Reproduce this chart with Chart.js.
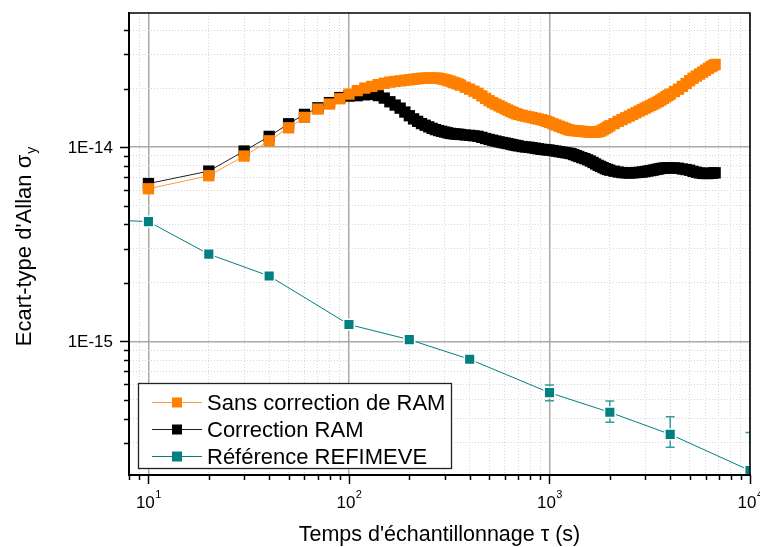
<!DOCTYPE html>
<html>
<head>
<meta charset="utf-8">
<script src="https://cdn.jsdelivr.net/npm/chart.js@4.4.1/dist/chart.umd.min.js"></script>
<style>
html, body { margin: 0; padding: 0; background: #fff; }
#wrap { width: 760px; height: 547px; }
</style>
</head>
<body>
<div id="wrap"><canvas id="allanChart" width="760" height="547"></canvas></div>
<script>
// Ecart-type d'Allan (log-log)

const tau = [
  10, 20, 30, 40, 50, 60, 70, 80, 90, 100,
  110, 120, 130, 140, 150, 160, 170, 180, 190, 200,
  210, 220, 230, 240, 250, 260, 270, 280, 290, 300,
  310, 320, 330, 340, 350, 360, 380, 400, 420, 440,
  460, 480, 500, 520, 540, 560, 580, 600, 620, 640,
  660, 680, 700, 730, 760, 790, 820, 850, 880, 910,
  940, 970, 1000, 1040, 1080, 1120, 1160, 1200, 1240, 1280,
  1320, 1360, 1400, 1450, 1500, 1550, 1600, 1650, 1700, 1750,
  1800, 1850, 1900, 1950, 2000, 2100, 2200, 2300, 2400, 2500,
  2600, 2700, 2800, 2900, 3000, 3100, 3200, 3300, 3400, 3500,
  3600, 3700, 3800, 3900, 4000, 4200, 4400, 4600, 4800, 5000,
  5200, 5400, 5600, 5800, 6000, 6200, 6400, 6550, 6700
];

const sansCorrection = [
  0.610e-14, 0.712e-14, 0.899e-14, 1.077e-14, 1.257e-14, 1.422e-14, 1.569e-14, 1.665e-14, 1.773e-14, 1.874e-14,
  1.953e-14, 2.012e-14, 2.053e-14, 2.097e-14, 2.130e-14, 2.160e-14, 2.176e-14, 2.191e-14, 2.207e-14, 2.220e-14,
  2.233e-14, 2.246e-14, 2.259e-14, 2.265e-14, 2.267e-14, 2.267e-14, 2.267e-14, 2.259e-14, 2.243e-14, 2.225e-14,
  2.204e-14, 2.181e-14, 2.157e-14, 2.135e-14, 2.110e-14, 2.085e-14, 2.033e-14, 1.986e-14, 1.939e-14, 1.892e-14,
  1.834e-14, 1.781e-14, 1.733e-14, 1.694e-14, 1.662e-14, 1.631e-14, 1.603e-14, 1.574e-14, 1.550e-14, 1.527e-14,
  1.505e-14, 1.486e-14, 1.472e-14, 1.456e-14, 1.442e-14, 1.430e-14, 1.418e-14, 1.405e-14, 1.394e-14, 1.384e-14,
  1.371e-14, 1.355e-14, 1.339e-14, 1.318e-14, 1.298e-14, 1.280e-14, 1.263e-14, 1.247e-14, 1.230e-14, 1.220e-14,
  1.216e-14, 1.212e-14, 1.209e-14, 1.205e-14, 1.200e-14, 1.196e-14, 1.193e-14, 1.190e-14, 1.193e-14, 1.199e-14,
  1.209e-14, 1.227e-14, 1.247e-14, 1.268e-14, 1.287e-14, 1.320e-14, 1.355e-14, 1.385e-14, 1.415e-14, 1.444e-14,
  1.473e-14, 1.502e-14, 1.532e-14, 1.560e-14, 1.586e-14, 1.612e-14, 1.639e-14, 1.665e-14, 1.690e-14, 1.719e-14,
  1.749e-14, 1.781e-14, 1.813e-14, 1.843e-14, 1.874e-14, 1.930e-14, 1.986e-14, 2.053e-14, 2.122e-14, 2.196e-14,
  2.262e-14, 2.319e-14, 2.375e-14, 2.429e-14, 2.487e-14, 2.541e-14, 2.595e-14, 2.629e-14, 2.664e-14
];

const correctionRam = [
  0.649e-14, 0.752e-14, 0.954e-14, 1.135e-14, 1.318e-14, 1.473e-14, 1.593e-14, 1.694e-14, 1.798e-14, 1.830e-14,
  1.839e-14, 1.858e-14, 1.869e-14, 1.841e-14, 1.787e-14, 1.711e-14, 1.645e-14, 1.586e-14, 1.515e-14, 1.450e-14,
  1.397e-14, 1.357e-14, 1.321e-14, 1.295e-14, 1.271e-14, 1.248e-14, 1.230e-14, 1.216e-14, 1.205e-14, 1.195e-14,
  1.185e-14, 1.176e-14, 1.171e-14, 1.167e-14, 1.164e-14, 1.161e-14, 1.154e-14, 1.149e-14, 1.143e-14, 1.136e-14,
  1.122e-14, 1.107e-14, 1.095e-14, 1.084e-14, 1.074e-14, 1.064e-14, 1.056e-14, 1.049e-14, 1.042e-14, 1.034e-14,
  1.026e-14, 1.020e-14, 1.014e-14, 1.006e-14, 1.001e-14, 0.998e-14, 0.992e-14, 0.986e-14, 0.980e-14, 0.974e-14,
  0.971e-14, 0.967e-14, 0.965e-14, 0.959e-14, 0.953e-14, 0.947e-14, 0.941e-14, 0.936e-14, 0.931e-14, 0.925e-14,
  0.915e-14, 0.904e-14, 0.894e-14, 0.882e-14, 0.872e-14, 0.860e-14, 0.847e-14, 0.833e-14, 0.818e-14, 0.805e-14,
  0.795e-14, 0.784e-14, 0.774e-14, 0.767e-14, 0.760e-14, 0.751e-14, 0.744e-14, 0.739e-14, 0.737e-14, 0.735e-14,
  0.737e-14, 0.739e-14, 0.741e-14, 0.744e-14, 0.748e-14, 0.753e-14, 0.757e-14, 0.761e-14, 0.767e-14, 0.771e-14,
  0.776e-14, 0.779e-14, 0.780e-14, 0.781e-14, 0.781e-14, 0.781e-14, 0.778e-14, 0.771e-14, 0.766e-14, 0.760e-14,
  0.750e-14, 0.742e-14, 0.736e-14, 0.732e-14, 0.731e-14, 0.731e-14, 0.733e-14, 0.735e-14, 0.737e-14
];

const tauRef = [1, 10, 20, 40, 100, 200, 400, 1000, 2000, 4000, 10000];
const refimeve = [4.63e-15, 4.13e-15, 2.81e-15, 2.17e-15, 1.22e-15, 1.02e-15, 8.08e-16, 5.44e-16, 4.31e-16, 3.32e-16, 2.16e-16];
const refErrLow = [null, null, null, null, null, null, null, 4.95e-16, 3.83e-16, 2.85e-16, 1.38e-16];
const refErrHigh = [null, null, null, null, null, null, null, 5.96e-16, 4.93e-16, 4.09e-16, 3.39e-16];

const seriesLabels = ["Sans correction de RAM", "Correction RAM", "Référence REFIMEVE"];

const xDecades = [10, 100, 1000, 10000];
const xDecadeExp = ["1", "2", "3", "4"];
const yDecades = [1e-15, 1e-14];
const yDecadeLabels = ["1E-15", "1E-14"];

const FONT = "'Liberation Sans', Arial, sans-serif";


function isDecade(v) {
  const l = Math.log10(v);
  return Math.abs(l - Math.round(l)) < 1e-6;
}

function isNice(v) {
  const e = Math.floor(Math.log10(v) + 1e-9);
  const m = v / Math.pow(10, e);
  return Math.abs(m - Math.round(m)) < 1e-3;
}

function pts(xs, ys) {
  return xs.map((x, i) => ({ x: x, y: ys[i] }));
}

const gridOpts = {
  drawTicks: false,
  color: c => {
    if (!c.tick) return '#000';
    if (isDecade(c.tick.value)) return '#aaaaaa';
    return isNice(c.tick.value) ? '#d6d6d6' : 'rgba(0,0,0,0)';
  },
  lineWidth: c => (c.tick && isDecade(c.tick.value)) ? 1.5 : 1
};

const borderOpts = {
  display: true,
  color: '#000',
  width: 2,
  dash: c => (c.tick && !isDecade(c.tick.value)) ? [1, 2] : []
};


// error bars, frame, ticks, labels, titles, legend
const decor = {
  id: 'decor',

  beforeDatasetsDraw(chart) {
    const ctx = chart.ctx;
    const xs = chart.scales.x, ys = chart.scales.y;
    const a = chart.chartArea;
    ctx.save();
    ctx.beginPath();
    ctx.rect(a.left, a.top, a.right - a.left, a.bottom - a.top);
    ctx.clip();
    ctx.strokeStyle = '#3a9a9a';
    ctx.lineWidth = 1.5;
    tauRef.forEach((t, i) => {
      if (refErrLow[i] == null) return;
      const px = xs.getPixelForValue(t);
      const y1 = ys.getPixelForValue(refErrLow[i]);
      const y2 = ys.getPixelForValue(refErrHigh[i]);
      ctx.beginPath();
      ctx.moveTo(px, y1); ctx.lineTo(px, y2);
      ctx.moveTo(px - 4.5, y1); ctx.lineTo(px + 4.5, y1);
      ctx.moveTo(px - 4.5, y2); ctx.lineTo(px + 4.5, y2);
      ctx.stroke();
    });
    ctx.restore();
  },

  afterDatasetsDraw(chart) {
    const ctx = chart.ctx;
    const xs = chart.scales.x, ys = chart.scales.y;
    const a = chart.chartArea;

    ctx.save();

    // frame
    ctx.strokeStyle = '#000';
    ctx.lineWidth = 1.5;
    ctx.strokeRect(a.left, a.top, a.right - a.left, a.bottom - a.top);
    ctx.lineWidth = 2;
    ctx.beginPath();
    ctx.moveTo(a.left, a.top); ctx.lineTo(a.left, a.bottom); ctx.lineTo(a.right, a.bottom);
    ctx.stroke();

    // tick marks
    ctx.lineWidth = 1.5;
    ctx.beginPath();
    xs.ticks.forEach(t => {
      if (!isNice(t.value)) return;
      const px = Math.round(xs.getPixelForValue(t.value)) + 0.5;
      const len = isDecade(t.value) ? 9 : 5;
      ctx.moveTo(px, a.bottom); ctx.lineTo(px, a.bottom + len);
    });
    ys.ticks.forEach(t => {
      if (!isNice(t.value)) return;
      const py = Math.round(ys.getPixelForValue(t.value)) + 0.5;
      const len = isDecade(t.value) ? 9 : 5;
      ctx.moveTo(a.left, py); ctx.lineTo(a.left - len, py);
    });
    ctx.stroke();

    // tick labels
    ctx.fillStyle = '#000';
    ctx.textBaseline = 'alphabetic';
    xDecades.forEach((d, i) => {
      const px = xs.getPixelForValue(d);
      ctx.font = '17px ' + FONT;
      const w1 = ctx.measureText('10').width;
      ctx.font = '11px ' + FONT;
      const w2 = ctx.measureText(xDecadeExp[i]).width;
      const x0 = px - (w1 + w2) / 2;
      ctx.textAlign = 'left';
      ctx.font = '17px ' + FONT;
      ctx.fillText('10', x0, 508);
      ctx.font = '11px ' + FONT;
      ctx.fillText(xDecadeExp[i], x0 + w1 + 0.5, 498);
    });
    ctx.font = '17px ' + FONT;
    ctx.textAlign = 'right';
    yDecades.forEach((d, i) => {
      const py = ys.getPixelForValue(d);
      ctx.fillText(yDecadeLabels[i], a.left - 16, py + 6);
    });

    // axis titles
    ctx.textAlign = 'center';
    ctx.font = '21.5px ' + FONT;
    ctx.fillText("Temps d'échantillonnage τ (s)", (a.left + a.right) / 2, 541);

    ctx.save();
    ctx.translate(31, (a.top + a.bottom) / 2 + 3);
    ctx.rotate(-Math.PI / 2);
    ctx.textAlign = 'left';
    const main = "Ecart-type d'Allan σ";
    ctx.font = '22px ' + FONT;
    const wm = ctx.measureText(main).width;
    ctx.font = '14px ' + FONT;
    const ws = ctx.measureText('y').width;
    const s0 = -(wm + ws) / 2;
    ctx.font = '22px ' + FONT;
    ctx.fillText(main, s0, 0);
    ctx.font = '14px ' + FONT;
    ctx.fillText('y', s0 + wm + 1, 5);
    ctx.restore();

    // legend
    const lx = 138.5, ly = 383.5, lw = 313, lh = 85;
    ctx.fillStyle = '#fff';
    ctx.fillRect(lx, ly, lw, lh);
    ctx.strokeStyle = '#222';
    ctx.lineWidth = 1.3;
    ctx.strokeRect(lx, ly, lw, lh);
    chart.data.datasets.forEach((ds, i) => {
      const cy = 402 + i * 27;
      ctx.strokeStyle = ds.borderColor;
      ctx.lineWidth = 1.2;
      ctx.beginPath();
      ctx.moveTo(152, cy + 0.5); ctx.lineTo(202, cy + 0.5);
      ctx.stroke();
      ctx.fillStyle = ds.pointBackgroundColor;
      ctx.fillRect(172, cy - 4.5, 10, 10);
      ctx.fillStyle = '#000';
      ctx.textAlign = 'left';
      ctx.font = '22px ' + FONT;
      ctx.fillText(ds.label, 207, cy + 8);
    });

    ctx.restore();
  }
};


new Chart(document.getElementById('allanChart'), {
  type: 'scatter',
  data: {
    datasets: [
      {
        label: seriesLabels[0],
        data: pts(tau, sansCorrection),
        showLine: true,
        borderColor: '#FF9A3C',
        borderWidth: 1,
        pointBackgroundColor: '#FF8000',
        pointBorderWidth: 0,
        pointStyle: 'rect',
        pointRadius: 8,
        clip: 0
      },
      {
        label: seriesLabels[1],
        data: pts(tau, correctionRam),
        showLine: true,
        borderColor: '#202020',
        borderWidth: 1,
        pointBackgroundColor: '#000000',
        pointBorderWidth: 0,
        pointStyle: 'rect',
        pointRadius: 8,
        clip: 0
      },
      {
        label: seriesLabels[2],
        data: pts(tauRef, refimeve),
        showLine: true,
        borderColor: '#008080',
        borderWidth: 1,
        pointBackgroundColor: '#008080',
        pointBorderColor: '#ffffff',
        pointBorderWidth: 1.5,
        pointStyle: 'rect',
        pointRadius: 7.5,
        clip: 0
      }
    ]
  },
  options: {
    responsive: false,
    animation: false,
    events: [],
    layout: { padding: { top: 13, right: 10, bottom: 0, left: 0 } },
    plugins: {
      legend: { display: false },
      tooltip: { enabled: false }
    },
    scales: {
      x: {
        type: 'logarithmic',
        position: 'bottom',
        min: 8,
        max: 10000,
        ticks: { display: false },
        grid: gridOpts,
        border: borderOpts,
        afterFit: s => { s.height = 72; }
      },
      y: {
        type: 'logarithmic',
        position: 'left',
        min: 2.05e-16,
        max: 4.9e-14,
        ticks: { display: false },
        grid: gridOpts,
        border: borderOpts,
        afterFit: s => { s.width = 129; }
      }
    }
  },
  plugins: [decor]
});
</script>
</body>
</html>
